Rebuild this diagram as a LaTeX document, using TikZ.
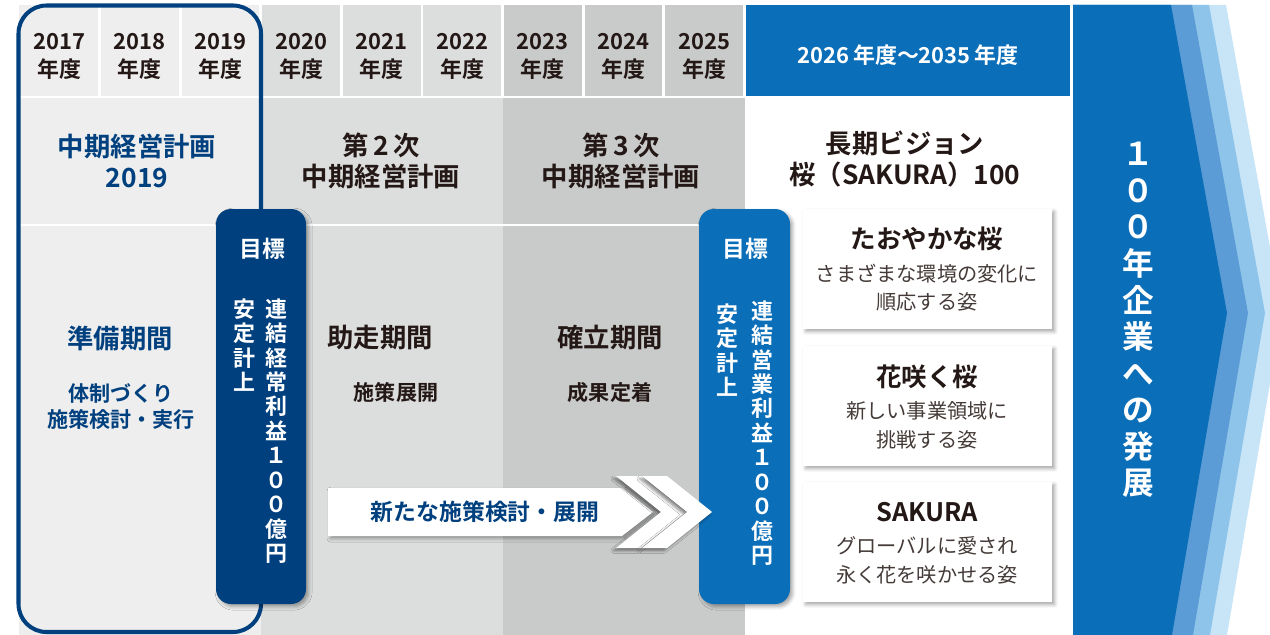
\documentclass[tikz,border=0pt]{standalone}
\usepackage{fontspec}
\setmainfont{Noto Sans CJK JP}[BoldFont={Noto Sans CJK JP Bold}]
\usetikzlibrary{positioning,calc,shadows.blur}

\definecolor{navy}{HTML}{00407E}
\definecolor{sakurablue}{HTML}{0B6EB8}
\definecolor{greyA}{HTML}{EEEEEE}
\definecolor{greyB}{HTML}{DCDDDD}
\definecolor{greyC}{HTML}{C9CACA}
\definecolor{ink}{HTML}{231815}
\definecolor{stripeA}{HTML}{5C9CD6}
\definecolor{stripeB}{HTML}{8EC4EA}
\definecolor{stripeC}{HTML}{C8E5F7}

\tikzset{
  softshadow/.style={blur shadow={shadow xshift=1.5pt, shadow yshift=-1.5pt, shadow blur radius=2pt, shadow opacity=35}},
  sep/.style={white, line width=1.5pt},
}

\begin{document}
\begin{tikzpicture}[x=0.02cm, y=-0.02cm,
    yearlabel/.style={font=\bfseries\fontsize{12.5}{15.9}\selectfont, text=ink, align=center, inner sep=0pt},
    plantitle/.style={font=\bfseries\fontsize{15}{18.1}\selectfont, text=ink, align=center, inner sep=0pt},
    phasenote/.style={font=\bfseries\fontsize{12}{15.3}\selectfont, text=ink, align=center, inner sep=0pt},
    goalhead/.style={font=\bfseries\fontsize{13}{16}\selectfont, text=white, inner sep=0pt},
    goalcol/.style={font=\bfseries\fontsize{12.5}{13.9}\selectfont, text=white, align=center, inner sep=0pt},
    visiontitle/.style={font=\bfseries\fontsize{14.5}{18}\selectfont, text=ink, inner sep=0pt},
    visionnote/.style={font=\fontsize{11.5}{16.2}\selectfont, text=ink!85, align=center, inner sep=0pt},
  ]
  \useasboundingbox (0,0) rectangle (1270,635);
  \clip (0,0) rectangle (1270,635);

  % period backgrounds
  \fill[greyA] (19,5) rectangle (261,635);
  \fill[greyB] (261,5) rectangle (503,635);
  \fill[greyC] (503,5) rectangle (745,635);
  \fill[sakurablue] (746,5) rectangle (1070,96);

  % year header
  \foreach \yr [count=\i from 0] in {2017,2018,...,2025}
    \node[yearlabel] (y\yr) at ({59.3+80.6*\i},56) {\yr\\年度};
  \foreach \i in {1,...,9}
    \draw[sep] ({19+80.6*\i},5) -- ({19+80.6*\i},97);
  \draw[sep] (19,97) -- (1072,97);
  \draw[sep] (19,225) -- (745,225);
  \node[font=\bfseries\fontsize{12.5}{15}\selectfont, text=white] (ylong) at (908,55) {2026\,年度～2035\,年度};

  % 100 year column with stripes
  \foreach \d/\c in {55/stripeC,38/stripeB,21/stripeA,0/sakurablue}
    \fill[\c] (1073,5) -- ({1171+\d},5) -- ({1227+\d},313) -- ({1172+\d},635) -- (1073,635) -- cycle;
  \node[font=\bfseries\fontsize{18}{20.8}\selectfont, text=white, align=center, inner sep=0pt] (goal100)
    at (1138,320) {１\\０\\０\\年\\企\\業\\へ\\の\\発\\展};

  % plan titles
  \node[plantitle, text=navy] (plan2019) at (137,161) {中期経営計画\\2019};
  \node[plantitle] (plan2nd) at (381,161) {第\,2\,次\\中期経営計画};
  \node[plantitle] (plan3rd) at (621,161) {第\,3\,次\\中期経営計画};
  \node[plantitle] (vision) at (905,159) {長期ビジョン\\桜（SAKURA）100};

  % phases
  \node[plantitle, text=navy] (prep) at (120,338) {準備期間};
  \node[phasenote, text=navy] (prepnote) at (121,406.5) {体制づくり\\施策検討・実行};
  \node[plantitle] (run) at (380,338) {助走期間};
  \node[phasenote] (runnote) at (396,392) {施策展開};
  \node[plantitle] (est) at (610,338) {確立期間};
  \node[phasenote] (estnote) at (610,393) {成果定着};

  % frame round plan 2019
  \draw[navy, line width=2.3pt, rounded corners=0.56cm] (18.5,5.5) rectangle (261,632);

  % goal boxes
  \fill[navy, rounded corners=0.3cm, softshadow] (216,209) rectangle (306,604);
  \node[goalhead] (goalA) at (262,249) {目標};
  \node[goalcol] (goalAl) at (244,345) {安\\定\\計\\上};
  \node[goalcol] (goalAr) at (276,431) {連\\結\\経\\常\\利\\益\\１\\０\\０\\億\\円};

  \fill[sakurablue, rounded corners=0.3cm, softshadow] (699,209) rectangle (790,604);
  \node[goalhead] (goalB) at (745,249) {目標};
  \node[goalcol] (goalBl) at (727,350) {安\\定\\計\\上};
  \node[goalcol] (goalBr) at (762,433) {連\\結\\営\\業\\利\\益\\１\\０\\０\\億\\円};

  % new measures arrow
  \fill[white, softshadow] (328,488) -- (622,488) -- (653,512) -- (622,536) -- (328,536) -- cycle;
  \foreach \dx in {0,26}
    \fill[white, blur shadow={shadow xshift=-1.5pt, shadow yshift=-1.5pt, shadow blur radius=1.5pt, shadow opacity=45}]
      ({616+\dx},476) -- ({641+\dx},476) -- ({686+\dx},512) -- ({641+\dx},548) -- ({616+\dx},548) -- ({661+\dx},512) -- cycle;
  \node[font=\bfseries\fontsize{13}{16}\selectfont, text=navy] (measures) at (485,512) {新たな施策検討・展開};

  % vision boxes
  \fill[white, softshadow] (803,209) rectangle (1052,329);
  \node[visiontitle] (v1) at (927,239) {たおやかな桜};
  \node[visionnote] (v1note) at (927,287.5) {さまざまな環境の変化に\\順応する姿};
  \fill[white, softshadow] (803,346) rectangle (1052,466);
  \node[visiontitle] (v2) at (927,377) {花咲く桜};
  \node[visionnote] (v2note) at (927,425.5) {新しい事業領域に\\挑戦する姿};
  \fill[white, softshadow] (803,482) rectangle (1052,602);
  \node[visiontitle] (v3) at (927,512) {SAKURA};
  \node[visionnote] (v3note) at (927,560.5) {グローバルに愛され\\永く花を咲かせる姿};
\end{tikzpicture}
\end{document}
